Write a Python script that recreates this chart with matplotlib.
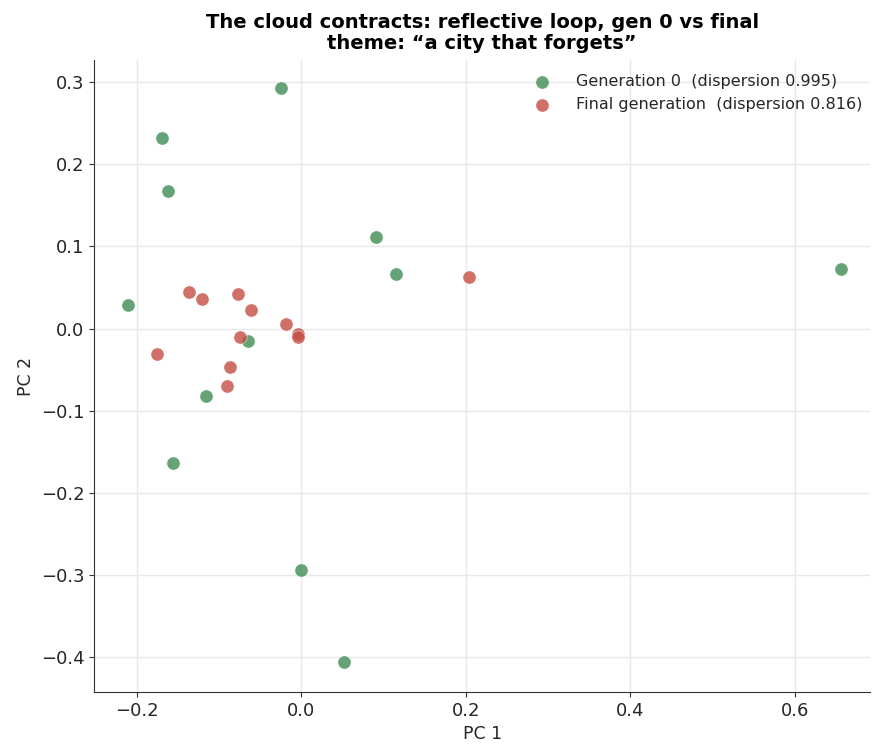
import numpy as np
import matplotlib.pyplot as plt

# PCA coordinates
gen0_pc1 = [-0.025, -0.170, -0.162, 0.091, 0.115, 0.657, -0.211, -0.065, -0.116, -0.156, -0.001, 0.052]
gen0_pc2 = [0.293, 0.232, 0.168, 0.112, 0.066, 0.073, 0.029, -0.015, -0.082, -0.164, -0.294, -0.407]

final_pc1 = [-0.137, -0.121, -0.077, -0.061, 0.204, -0.019, -0.004, -0.004, -0.075, -0.175, -0.087, -0.091]
final_pc2 = [0.045, 0.036, 0.042, 0.022, 0.063, 0.0055, -0.007, -0.010, -0.010, -0.031, -0.047, -0.070]

disp_gen0 = 0.995
disp_final = 0.816

fig = plt.figure(figsize=(8.72, 7.44), dpi=100)
ax = fig.add_axes([0.108, 0.070, 0.890, 0.849])

ax.scatter(gen0_pc1, gen0_pc2, s=90, color='#3f8c55', alpha=0.8,
           edgecolor='white', linewidth=0.4, zorder=3,
           label=f'Generation 0  (dispersion {disp_gen0:.3f})')
ax.scatter(final_pc1, final_pc2, s=90, color='#c44e42', alpha=0.8,
           edgecolor='white', linewidth=0.4, zorder=3,
           label=f'Final generation  (dispersion {disp_final:.3f})')

ax.set_xlim(-0.252, 0.692)
ax.set_ylim(-0.443, 0.327)
ax.set_xticks([-0.2, 0.0, 0.2, 0.4, 0.6])
ax.set_yticks([-0.4, -0.3, -0.2, -0.1, 0.0, 0.1, 0.2, 0.3])
ax.grid(True, color='#e8e8e8', linewidth=1)
ax.set_axisbelow(True)
ax.spines['top'].set_visible(False)
ax.spines['right'].set_visible(False)
ax.spines['left'].set_color('#333333')
ax.spines['bottom'].set_color('#333333')
ax.tick_params(labelsize=13, color='#333333', labelcolor='#262626')

ax.set_xlabel('PC 1', fontsize=12.5, color='#262626')
ax.set_ylabel('PC 2', fontsize=12.5, color='#262626')
ax.set_title('The cloud contracts: reflective loop, gen 0 vs final\ntheme: \u201ca city that forgets\u201d',
             fontsize=14, fontweight='bold', linespacing=1.15, pad=8)
leg = ax.legend(loc='upper right', bbox_to_anchor=(1.007, 1.0), frameon=False,
                fontsize=11.5, handletextpad=1.1, borderaxespad=0.45, labelspacing=0.5)
for t in leg.get_texts():
    t.set_color('#262626')

fig.savefig('out.png', dpi=100)
